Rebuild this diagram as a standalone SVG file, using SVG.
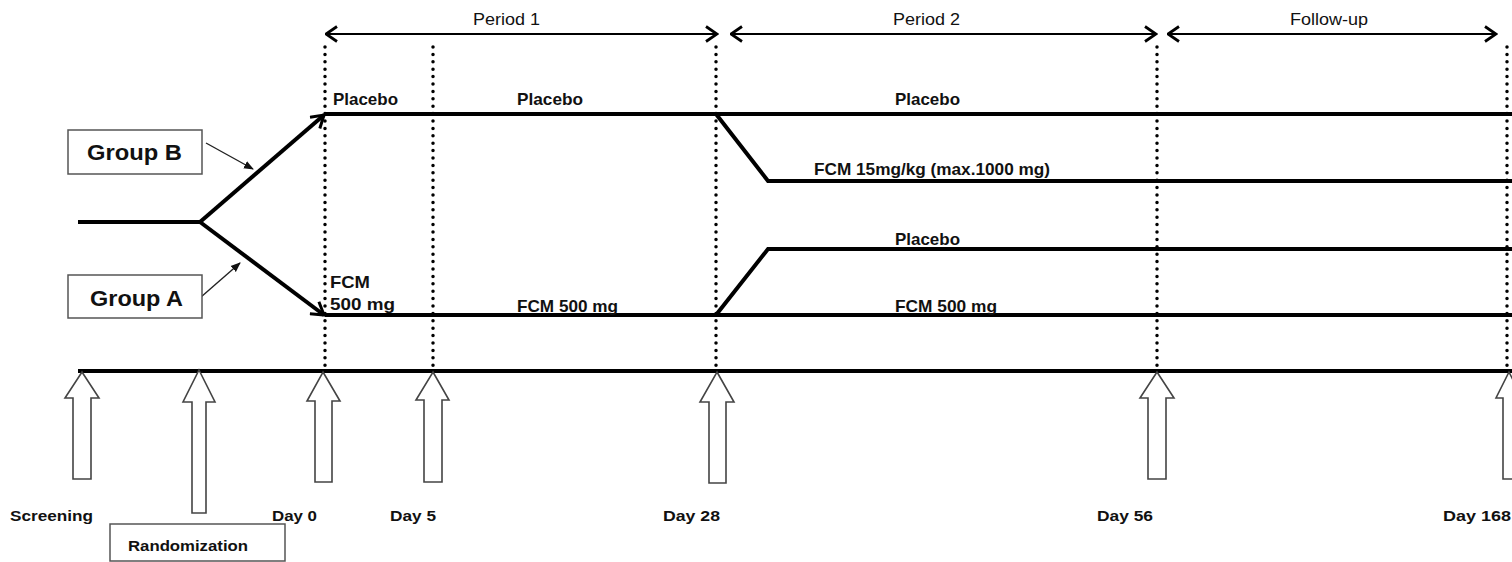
<svg xmlns="http://www.w3.org/2000/svg" width="1512" height="562" viewBox="0 0 1512 562">
<style>
text{font-family:"Liberation Sans",Arial,sans-serif;fill:#111}
.lbl{font-size:17px;font-weight:bold}
.per{font-size:16px}
.day{font-size:14px;font-weight:bold}
.grp{font-size:22px;font-weight:bold}
.thick{stroke:#000;stroke-width:4;fill:none}
.dot{stroke:#000;stroke-width:3.5;stroke-linecap:round;stroke-dasharray:0 7.4;fill:none}
.box{fill:#fff;stroke:#555;stroke-width:1.5}
.blk{fill:#fff;stroke:#444;stroke-width:1.6;stroke-linejoin:miter}
.per-line{stroke:#000;stroke-width:2;fill:none}
</style>
<defs>
<marker id="chev" viewBox="0 0 14 18" refX="12.5" refY="9" markerWidth="14" markerHeight="18" markerUnits="userSpaceOnUse" orient="auto-start-reverse">
<path d="M1.5,1.5 L12.5,9 L1.5,16.5" fill="none" stroke="#000" stroke-width="2.8"/>
</marker>
<marker id="bchev" viewBox="0 0 16 18" refX="14" refY="9" markerWidth="16" markerHeight="18" markerUnits="userSpaceOnUse" orient="auto">
<path d="M2,1.5 L14,9 L2,16.5" fill="none" stroke="#000" stroke-width="3"/>
</marker>
<marker id="tri" viewBox="0 0 10 10" refX="9" refY="5" markerWidth="10" markerHeight="10" markerUnits="userSpaceOnUse" orient="auto">
<path d="M0,1 L10,5 L0,9 Z" fill="#111"/>
</marker>
</defs>

<g id="periods">
<line class="per-line" x1="326" y1="34" x2="717" y2="34" marker-start="url(#chev)" marker-end="url(#chev)"/>
<line class="per-line" x1="731" y1="34" x2="1156" y2="34" marker-start="url(#chev)" marker-end="url(#chev)"/>
<line class="per-line" x1="1168" y1="34" x2="1496" y2="34" marker-start="url(#chev)" marker-end="url(#chev)"/>
<text class="per" x="473" y="25" textLength="67" lengthAdjust="spacingAndGlyphs">Period 1</text>
<text class="per" x="893" y="25" textLength="67" lengthAdjust="spacingAndGlyphs">Period 2</text>
<text class="per" x="1290" y="25" textLength="78" lengthAdjust="spacingAndGlyphs">Follow-up</text>
</g>

<g id="dotted-lines">
<line class="dot" x1="325" y1="47" x2="325" y2="371"/>
<line class="dot" x1="433" y1="47" x2="433" y2="371"/>
<line class="dot" x1="716" y1="47" x2="716" y2="371"/>
<line class="dot" x1="1157" y1="47" x2="1157" y2="371"/>
<line class="dot" x1="1507" y1="47" x2="1507" y2="371"/>
</g>

<g id="connectors">
<line class="thick" x1="78" y1="222" x2="201" y2="222"/>
<line class="thick" x1="200" y1="222" x2="324" y2="115" marker-end="url(#bchev)"/>
<line class="thick" x1="200" y1="222" x2="324" y2="315" marker-end="url(#bchev)"/>
<polyline class="thick" points="325,114 1512,114"/>
<polyline class="thick" points="716,114 768,181 1512,181"/>
<polyline class="thick" points="325,315 1512,315"/>
<polyline class="thick" points="716,315 768,249 1512,249"/>
<line x1="206" y1="143" x2="253" y2="169" stroke="#222" stroke-width="1.4" marker-end="url(#tri)"/>
<line x1="201" y1="297" x2="240" y2="263" stroke="#222" stroke-width="1.4" marker-end="url(#tri)"/>
<line x1="78" y1="371" x2="1512" y2="371" stroke="#000" stroke-width="4"/>
</g>

<g id="group-b">
<rect class="box" x="68" y="130" width="134" height="44"/>
<text class="grp" x="87" y="160" textLength="95" lengthAdjust="spacingAndGlyphs">Group B</text>
</g>
<g id="group-a">
<rect class="box" x="68" y="275" width="134" height="43"/>
<text class="grp" x="90" y="306" textLength="93" lengthAdjust="spacingAndGlyphs">Group A</text>
</g>

<g id="treatment-labels">
<text class="lbl" x="333" y="105" textLength="65" lengthAdjust="spacingAndGlyphs">Placebo</text>
<text class="lbl" x="517" y="105" textLength="66" lengthAdjust="spacingAndGlyphs">Placebo</text>
<text class="lbl" x="895" y="105" textLength="65" lengthAdjust="spacingAndGlyphs">Placebo</text>
<text class="lbl" x="814" y="175" textLength="236" lengthAdjust="spacingAndGlyphs">FCM 15mg/kg (max.1000 mg)</text>
<text class="lbl" x="895" y="245" textLength="65" lengthAdjust="spacingAndGlyphs">Placebo</text>
<text class="lbl" x="330" y="288" textLength="40" lengthAdjust="spacingAndGlyphs">FCM</text>
<text class="lbl" x="330" y="310" textLength="65" lengthAdjust="spacingAndGlyphs">500 mg</text>
<text class="lbl" x="517" y="312" textLength="101" lengthAdjust="spacingAndGlyphs">FCM 500 mg</text>
<text class="lbl" x="895" y="312" textLength="102" lengthAdjust="spacingAndGlyphs">FCM 500 mg</text>
</g>

<g id="screening">
<polygon class="blk" points="82,372 99,398 91,398 91,479 73,479 73,398 65,398"/>
<text class="day" x="10" y="521" textLength="83" lengthAdjust="spacingAndGlyphs">Screening</text>
</g>
<g id="randomization">
<polygon class="blk" points="199,370 215,402 206,402 206,513 192,513 192,402 183,402"/>
<rect class="box" x="110" y="524" width="175" height="37"/>
<text class="day" x="128" y="551" textLength="120" lengthAdjust="spacingAndGlyphs">Randomization</text>
</g>
<g id="day0">
<polygon class="blk" points="323,372 340,401 332,401 332,482 315,482 315,401 307,401"/>
<text class="day" x="272" y="521" textLength="45" lengthAdjust="spacingAndGlyphs">Day 0</text>
</g>
<g id="day5">
<polygon class="blk" points="433,372 449,400 442,400 442,482 424,482 424,400 416,400"/>
<text class="day" x="390" y="521" textLength="46" lengthAdjust="spacingAndGlyphs">Day 5</text>
</g>
<g id="day28">
<polygon class="blk" points="717,372 734,402 726,402 726,483 709,483 709,402 700,402"/>
<text class="day" x="663" y="521" textLength="57" lengthAdjust="spacingAndGlyphs">Day 28</text>
</g>
<g id="day56">
<polygon class="blk" points="1157,372 1174,398 1166,398 1166,479 1148,479 1148,398 1140,398"/>
<text class="day" x="1097" y="521" textLength="56" lengthAdjust="spacingAndGlyphs">Day 56</text>
</g>
<g id="day168">
<polygon class="blk" points="1509,372 1522,398 1518,398 1518,479 1503,479 1503,398 1496,398"/>
<text class="day" x="1443" y="521" textLength="68" lengthAdjust="spacingAndGlyphs">Day 168</text>
</g>
</svg>
